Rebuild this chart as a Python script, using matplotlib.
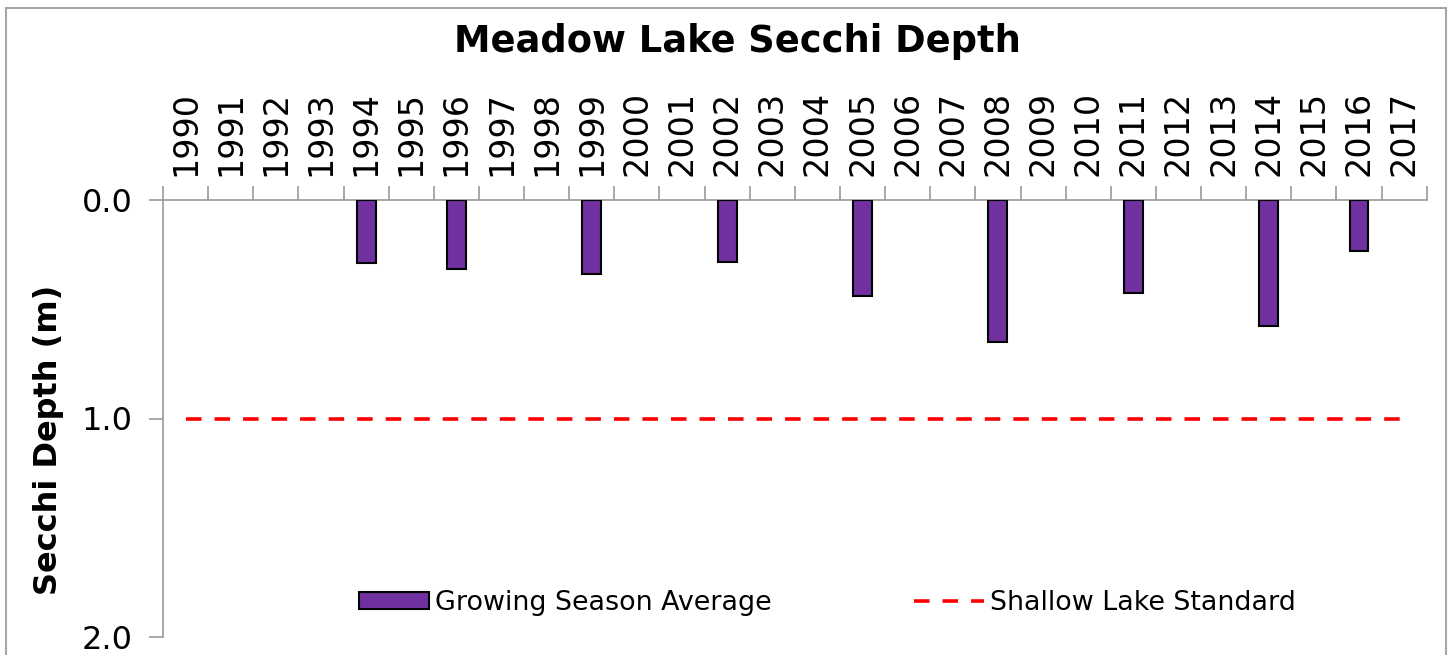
import matplotlib
matplotlib.use("Agg")
import matplotlib.pyplot as plt
from matplotlib.patches import Rectangle
import numpy as np

years = [str(y) for y in range(1990, 2018)]
bar_years = ["1994", "1996", "1999", "2002", "2005", "2008", "2011", "2014", "2016"]
secchi = [0.29, 0.316, 0.34, 0.285, 0.44, 0.648, 0.424, 0.575, 0.235]
standard = [1.0] * len(years)

plt.rcParams['font.family'] = ['DejaVu Sans']

W, H = 1454, 655
fig = plt.figure(figsize=(W / 100, H / 100), dpi=100)

# outer chart border
fig.patches.append(Rectangle((6 / W, -0.05), (1446 - 6) / W, 1.05 - 8 / H,
                             transform=fig.transFigure, fill=False,
                             edgecolor='#a6a6a6', linewidth=1.5))

ax = fig.add_axes([163 / W, 1 - 637 / H, (1426.7 - 163) / W, (637 - 200) / H])

x = np.arange(len(years))
idx = [years.index(y) for y in bar_years]
bars = ax.bar(idx, secchi, width=0.42, color='#7030A0', edgecolor='black',
              linewidth=1.5, label='Growing Season Average', zorder=3)
line, = ax.plot(x, standard, color='#ff0000', linewidth=2.6,
                linestyle=(0, (4.3, 3.6)), label='Shallow Lake Standard', zorder=2)

ax.set_xlim(-0.5, len(years) - 0.5)
ax.set_ylim(2.0, 0.0)

axis_col = '#9a9a9a'
for s in ['right', 'bottom']:
    ax.spines[s].set_visible(False)
for s in ['left', 'top']:
    ax.spines[s].set_color(axis_col)
    ax.spines[s].set_linewidth(1.2)

ax.xaxis.tick_top()
ax.set_xticks(np.arange(-0.5, len(years) + 0.5, 1.0))
ax.set_xticklabels([])
ax.set_xticks(x, minor=True)
ax.set_xticklabels(years, minor=True, rotation=90, fontsize=24)
ax.tick_params(axis='x', which='major', direction='out', length=10,
               color=axis_col, width=1.2, top=True, bottom=False)
ax.tick_params(axis='x', which='minor', length=0, pad=17, top=True, bottom=False)

ax.set_yticks([0.0, 1.0, 2.0])
ax.set_yticklabels(['0.0', '1.0', '2.0'], fontsize=23)
ax.tick_params(axis='y', direction='out', length=10, color=axis_col,
               width=1.2, pad=12)

fig.text(737.5 / W, 1 - 41 / H, 'Meadow Lake Secchi Depth', fontsize=26.5,
         fontweight='bold', ha='center', va='center')
fig.text(48.5 / W, 1 - 440 / H, 'Secchi Depth (m)', fontsize=23,
         fontweight='bold', rotation=90, ha='center', va='center')

leg = ax.legend(handles=[bars, line], loc='center',
                bbox_to_anchor=(827.5 / W, 1 - 603 / H),
                bbox_transform=fig.transFigure, ncol=2, frameon=False,
                fontsize=19.4, handlelength=2.6, handleheight=0.57,
                handletextpad=0.2, columnspacing=5.3, borderpad=0)

fig.savefig('out.png', dpi=100)
